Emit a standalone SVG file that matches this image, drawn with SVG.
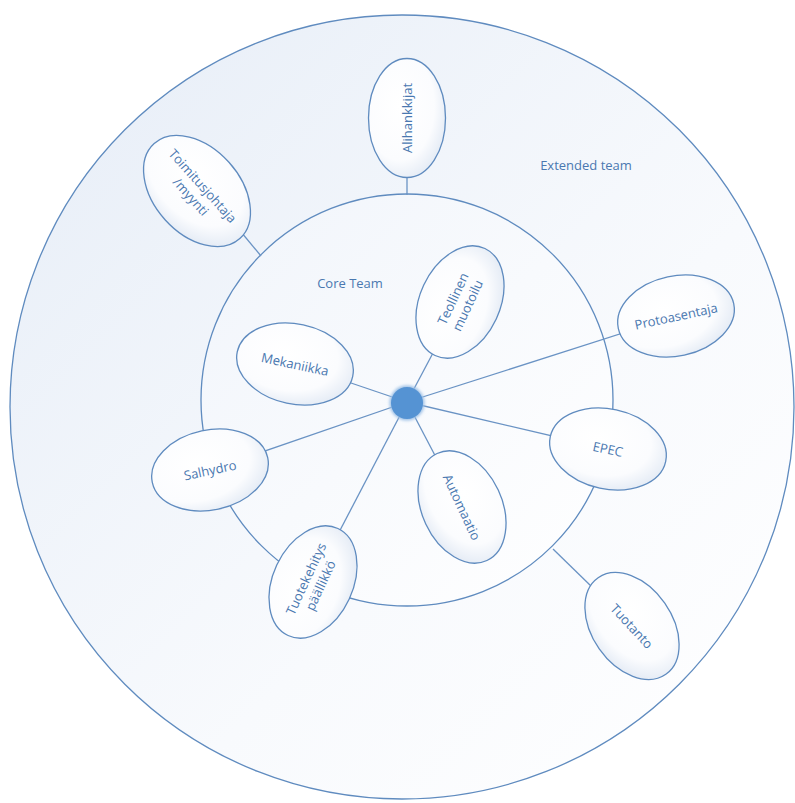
<svg xmlns="http://www.w3.org/2000/svg" width="795" height="803" viewBox="0 0 795 803">
  <defs>
    <linearGradient id="gOuter" x1="0" y1="0" x2="1" y2="1">
      <stop offset="0" stop-color="#e6edf7"/>
      <stop offset="0.6" stop-color="#f8fafd"/>
      <stop offset="1" stop-color="#ffffff"/>
    </linearGradient>
    <linearGradient id="gInner" x1="0" y1="0" x2="1" y2="1">
      <stop offset="0" stop-color="#f1f5fb"/>
      <stop offset="1" stop-color="#ffffff"/>
    </linearGradient>
    <radialGradient id="gNode" cx="0.4" cy="0.4" r="0.65">
      <stop offset="0" stop-color="#ffffff"/>
      <stop offset="0.7" stop-color="#fbfcfe"/>
      <stop offset="1" stop-color="#e4ebf5"/>
    </radialGradient>
    <filter id="glow" x="-50%" y="-50%" width="200%" height="200%">
      <feGaussianBlur stdDeviation="1.5"/>
    </filter>
  </defs>
  <style>
    .ring { stroke: #5f8bbf; stroke-width: 1.3; }
    .conn line { stroke: #6a93c4; stroke-width: 1.3; }
    .node ellipse { fill: url(#gNode); stroke: #5f8bbf; stroke-width: 1.3; }
    .node text, .lbl { font-family: "Open Sans", "Liberation Sans", sans-serif; font-size: 13px; fill: #4a78b0; text-anchor: middle; dominant-baseline: central; }
  </style>
  <rect width="795" height="803" fill="#ffffff"/>
  <g id="extended-team">
    <circle class="ring" cx="402" cy="407" r="392" fill="url(#gOuter)"/>
    <text class="lbl" x="586" y="165" font-size="12.5">Extended team</text>
  </g>
  <g id="core-team">
    <circle class="ring" cx="407" cy="400" r="206" fill="url(#gInner)"/>
    <text class="lbl" x="350" y="283" font-size="12.5">Core Team</text>
  </g>
  <g id="connectors" class="conn">
    <line x1="407" y1="402" x2="295" y2="364"/>
    <line x1="407" y1="402" x2="460" y2="302"/>
    <line x1="407" y1="402" x2="676" y2="316"/>
    <line x1="407" y1="402" x2="608" y2="449"/>
    <line x1="407" y1="402" x2="462" y2="507"/>
    <line x1="407" y1="402" x2="313" y2="582"/>
    <line x1="407" y1="402" x2="210" y2="470"/>
    <line x1="407" y1="150" x2="407" y2="195"/>
    <line x1="232" y1="221" x2="261" y2="256"/>
    <line x1="632" y1="626" x2="553" y2="549"/>
  </g>
  <g id="hub">
    <circle cx="407" cy="403" r="17.5" fill="#9cc0e6" filter="url(#glow)"/>
    <circle cx="407" cy="403" r="16" fill="#5593d3"/>
  </g>
  <g id="alihankkijat" class="node" transform="translate(407,118)">
    <ellipse rx="38.5" ry="59.5"/>
    <text transform="rotate(-90)">Alihankkijat</text>
  </g>
  <g id="toimitusjohtaja" class="node" transform="translate(197,191) rotate(48)">
    <ellipse rx="64" ry="43"/>
    <text y="-8">Toimitusjohtaja</text>
    <text y="8">/myynti</text>
  </g>
  <g id="teollinen-muotoilu" class="node" transform="translate(460,302) rotate(-65)">
    <ellipse rx="59" ry="40"/>
    <text y="-8">Teollinen</text>
    <text y="8">muotoilu</text>
  </g>
  <g id="mekaniikka" class="node" transform="translate(295,364) rotate(12)">
    <ellipse rx="59" ry="40"/>
    <text>Mekaniikka</text>
  </g>
  <g id="protoasentaja" class="node" transform="translate(676,316) rotate(-12)">
    <ellipse rx="59" ry="40"/>
    <text>Protoasentaja</text>
  </g>
  <g id="epec" class="node" transform="translate(608,449) rotate(12)">
    <ellipse rx="59" ry="40"/>
    <text>EPEC</text>
  </g>
  <g id="salhydro" class="node" transform="translate(210,470) rotate(-12)">
    <ellipse rx="59" ry="40"/>
    <text>Salhydro</text>
  </g>
  <g id="tuotekehitys" class="node" transform="translate(313,582) rotate(-65)">
    <ellipse rx="59" ry="40"/>
    <text y="-8">Tuotekehitys</text>
    <text y="8">päällikkö</text>
  </g>
  <g id="automaatio" class="node" transform="translate(462,507) rotate(65)">
    <ellipse rx="59" ry="40"/>
    <text>Automaatio</text>
  </g>
  <g id="tuotanto" class="node" transform="translate(632,626) rotate(55)">
    <ellipse rx="59" ry="40"/>
    <text transform="rotate(-8)">Tuotanto</text>
  </g>
</svg>
